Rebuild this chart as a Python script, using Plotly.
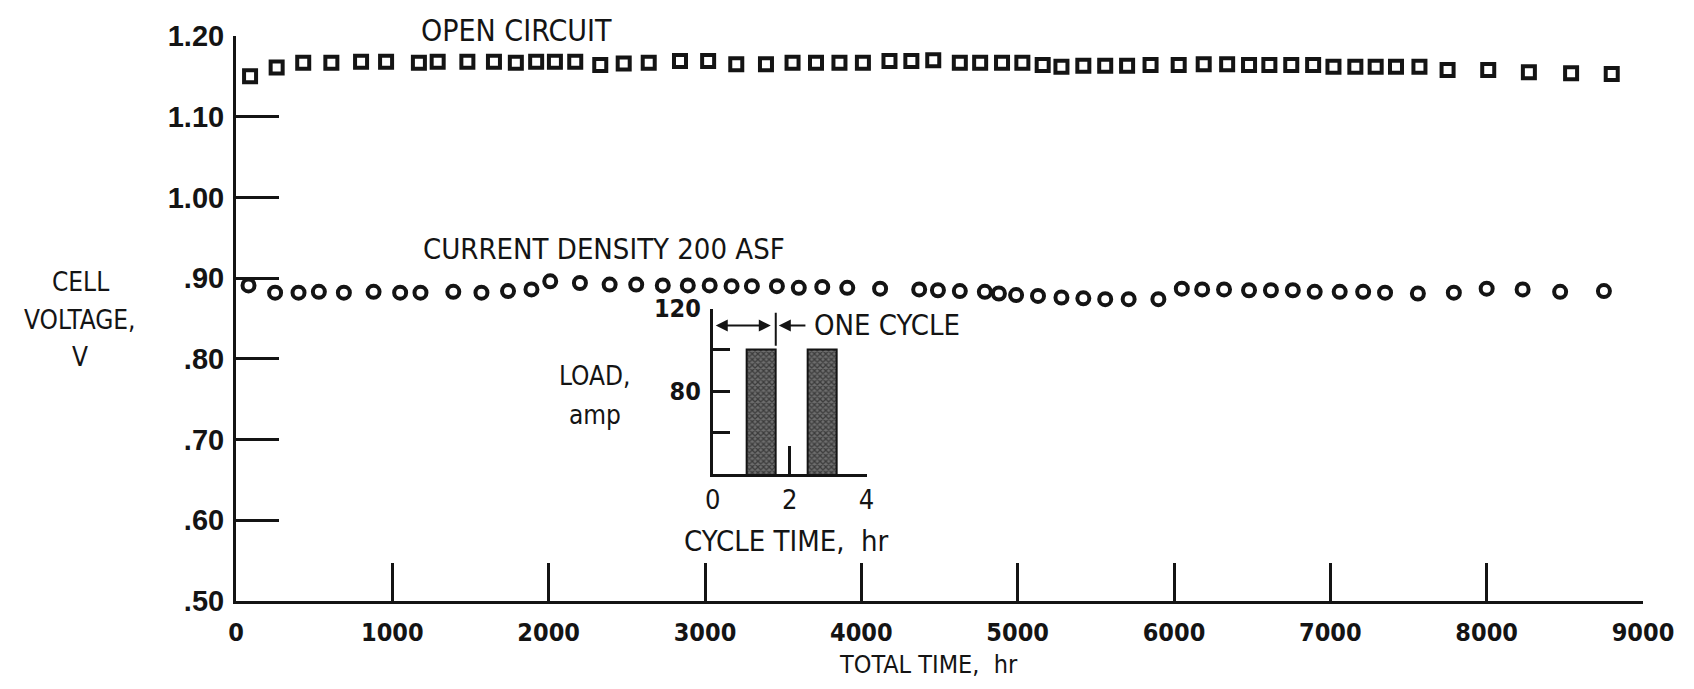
import plotly.graph_objects as go

# ---- data ----
oc_hours = [90, 260, 430, 610, 800, 960, 1170, 1290, 1480, 1650, 1790, 1920, 2040, 2170, 2330,
            2480, 2640, 2840, 3020, 3200, 3390, 3560, 3710, 3860, 4010, 4180, 4320, 4460, 4630, 4760,
            4900, 5030, 5160, 5280, 5420, 5560, 5700, 5850, 6030, 6190, 6340, 6480, 6610, 6750, 6890,
            7020, 7160, 7290, 7420, 7570, 7750, 8010, 8270, 8540, 8800]
oc_volts = [1.150, 1.161, 1.167, 1.167, 1.168, 1.168, 1.167, 1.168, 1.168, 1.168, 1.167, 1.168, 1.168, 1.168, 1.164,
            1.166, 1.167, 1.169, 1.169, 1.165, 1.165, 1.167, 1.167, 1.167, 1.167, 1.169, 1.169, 1.170, 1.167, 1.167,
            1.167, 1.167, 1.164, 1.162, 1.163, 1.163, 1.163, 1.164, 1.164, 1.165, 1.165, 1.164, 1.164, 1.164, 1.164,
            1.162, 1.162, 1.162, 1.162, 1.162, 1.158, 1.158, 1.155, 1.154, 1.153]

cd_hours = [80, 250, 400, 530, 690, 880, 1050, 1180, 1390, 1570, 1740, 1890, 2010, 2200, 2390,
            2560, 2730, 2890, 3030, 3170, 3300, 3460, 3600, 3750, 3910, 4120, 4370, 4490, 4630, 4790,
            4880, 4990, 5130, 5280, 5420, 5560, 5710, 5900, 6050, 6180, 6320, 6480, 6620, 6760, 6900,
            7060, 7210, 7350, 7560, 7790, 8000, 8230, 8470, 8750]
cd_volts = [0.891, 0.882, 0.882, 0.883, 0.882, 0.883, 0.882, 0.882, 0.883, 0.882, 0.884, 0.886, 0.896, 0.894, 0.892,
            0.892, 0.891, 0.891, 0.891, 0.890, 0.890, 0.890, 0.888, 0.889, 0.888, 0.887, 0.886, 0.885, 0.884, 0.883,
            0.881, 0.879, 0.878, 0.876, 0.875, 0.874, 0.874, 0.874, 0.887, 0.886, 0.886, 0.885, 0.885, 0.885, 0.883,
            0.883, 0.883, 0.882, 0.881, 0.882, 0.887, 0.886, 0.883, 0.884]

x_ticks = [0, 1000, 2000, 3000, 4000, 5000, 6000, 7000, 8000, 9000]
x_ticktext = ["0", "1000", "2000", "3000", "4000", "5000", "6000", "7000", "8000", "9000"]
y_ticks = [0.5, 0.6, 0.7, 0.8, 0.9, 1.0, 1.1, 1.2]
y_ticktext = [".50", ".60", ".70", ".80", ".90", "1.00", "1.10", "1.20"]

# inset: load cycle
load_on = [0.88, 2.48]     # hr
load_off = [1.64, 3.22]    # hr
load_amp = [100, 100]
inset_x_ticks = [0, 2, 4]
inset_x_ticktext = ["0", "2", "4"]
inset_y_ticks = [60, 80, 100, 120]
inset_y_ticktext = ["", "80", "", "120"]

INK = "#141414"
COND = "DejaVu Sans Condensed, Roboto Condensed, Liberation Sans Narrow, Roboto, sans-serif"
BOLD = "Liberation Sans, Arial, sans-serif"

# page has an 8px body margin; lay out in page pixels
OFF = 8
W, H = 1694 - 2 * OFF, 689 - 2 * OFF
PLOT_L, PLOT_R, PLOT_T, PLOT_B = 236, 1644, 31, 601   # page pixels
L, T = PLOT_L - OFF, PLOT_T - OFF
R, B = W - (PLOT_R - OFF), H - (PLOT_B - OFF)
PW, PH = PLOT_R - PLOT_L, PLOT_B - PLOT_T


def px(xpage):
    return (xpage - PLOT_L) / PW


def py(ypage):
    return (PLOT_B - ypage) / PH


fig = go.Figure()

fig.add_trace(go.Scatter(
    x=oc_hours, y=oc_volts, mode="markers",
    marker=dict(symbol="square-open", size=12, color=INK, line=dict(width=4, color=INK)),
    showlegend=False, cliponaxis=False))

fig.add_trace(go.Scatter(
    x=cd_hours, y=cd_volts, mode="markers",
    marker=dict(symbol="circle-open", size=12, color=INK, line=dict(width=4, color=INK)),
    showlegend=False, cliponaxis=False))

# inset bars
centers = [(a + b) / 2 for a, b in zip(load_on, load_off)]
widths = [b - a for a, b in zip(load_on, load_off)]
fig.add_trace(go.Bar(
    x=centers, y=load_amp, width=widths, xaxis="x2", yaxis="y2",
    marker=dict(color="#4a4a4a", line=dict(color=INK, width=2),
                pattern=dict(shape="x", fgcolor="#0a0a0a", bgcolor="#6e6e6e", size=4, solidity=0.55)),
    showlegend=False))

fig.update_layout(
    width=W, height=H,
    margin=dict(l=L, r=R, t=T, b=B, pad=0),
    paper_bgcolor="white", plot_bgcolor="white",
    bargap=0,
    xaxis=dict(range=[0, 9000], tickvals=x_ticks, ticktext=x_ticktext,
               showgrid=False, zeroline=False, showline=True, linecolor=INK, linewidth=3,
               ticks="inside", ticklen=38, tickwidth=2.5, tickcolor=INK,
               tickfont=dict(family=COND, size=25, color=INK, weight="bold"), ticklabelstandoff=7),
    yaxis=dict(range=[0.5, 1.2], tickvals=y_ticks, ticktext=y_ticktext,
               showgrid=False, zeroline=False, showline=True, linecolor=INK, linewidth=3,
               ticks="inside", ticklen=43, tickwidth=2.5, tickcolor=INK,
               tickfont=dict(family=BOLD, size=29, color=INK, weight="bold"),
               ticklabelstandoff=3),
    xaxis2=dict(domain=[px(713), px(867)], anchor="y2", range=[0, 4],
                tickvals=inset_x_ticks, ticktext=inset_x_ticktext,
                showgrid=False, zeroline=False, showline=True, linecolor=INK, linewidth=2.5,
                ticks="inside", ticklen=28, tickwidth=2.5, tickcolor=INK,
                tickfont=dict(family=COND, size=27, color=INK), ticklabelstandoff=0),
    yaxis2=dict(domain=[py(473), py(306)], anchor="x2", range=[40, 120],
                tickvals=inset_y_ticks, ticktext=inset_y_ticktext,
                showgrid=False, zeroline=False, showline=True, linecolor=INK, linewidth=2.5,
                ticks="inside", ticklen=18, tickwidth=2.5, tickcolor=INK,
                tickfont=dict(family=COND, size=25, color=INK, weight="bold"),
                ticklabelstandoff=4),
)


def label(text, xpage, ypage, size=28, xanchor="center"):
    fig.add_annotation(text=text, x=px(xpage), y=py(ypage), xref="paper", yref="paper",
                       xanchor=xanchor, yanchor="middle", showarrow=False,
                       font=dict(family=COND, size=size, color=INK))


label("OPEN CIRCUIT", 517, 25, size=30)
label("CURRENT DENSITY 200 ASF", 604, 246, size=29)
label("CELL", 80, 279, size=26)
label("VOLTAGE,", 80, 318, size=26)
label("V", 80, 355, size=26)
label("TOTAL TIME,  hr", 929, 665, size=25)
label("LOAD,", 595, 374, size=26)
label("amp", 595, 413, size=26)
label("ONE CYCLE", 812, 323, size=29, xanchor="left")
label("CYCLE TIME,  hr", 787, 540, size=29)

# "one cycle" dimension arrows
fig.add_annotation(x=0.08, y=111.8, ax=1.55, ay=111.8, xref="x2", yref="y2", axref="x2", ayref="y2",
                   text="", showarrow=True, arrowhead=2, arrowsize=1.2, arrowwidth=2,
                   arrowside="end+start", arrowcolor=INK)
fig.add_annotation(x=1.72, y=111.8, ax=2.45, ay=111.8, xref="x2", yref="y2", axref="x2", ayref="y2",
                   text="", showarrow=True, arrowhead=2, arrowsize=1.2, arrowwidth=2,
                   arrowcolor=INK)
fig.add_shape(type="line", xref="x2", yref="y2", x0=load_off[0], x1=load_off[0], y0=102, y1=118,
              line=dict(color=INK, width=2))

fig.write_html("out.html")
